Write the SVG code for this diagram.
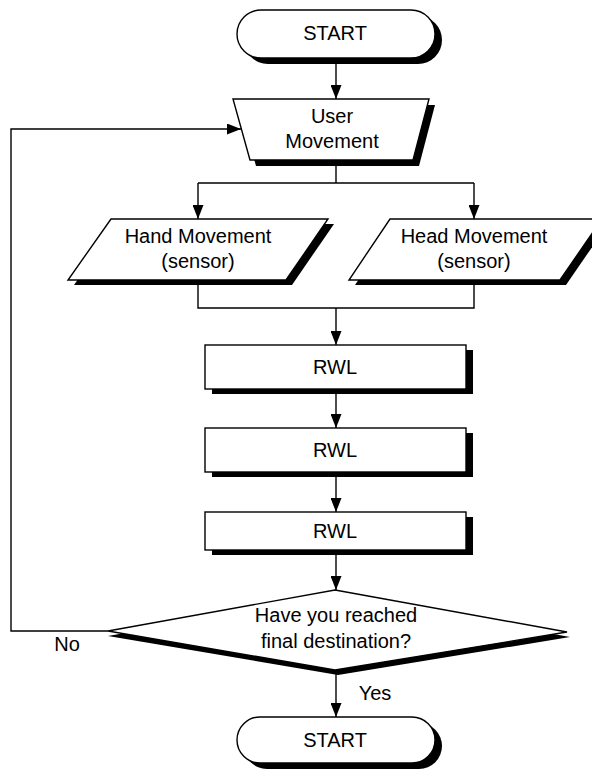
<svg xmlns="http://www.w3.org/2000/svg" width="592" height="769" viewBox="0 0 592 769">
<style>
.shape{fill:#fff;stroke:#000;stroke-width:1.4}
.shadow{fill:#000;stroke:none}
.line{fill:none;stroke:#000;stroke-width:1.4}
text{font-family:"Liberation Sans",Arial,sans-serif;font-size:20px;fill:#000;text-anchor:middle}
</style>
<defs>
<marker id="arrow" markerUnits="userSpaceOnUse" markerWidth="14" markerHeight="11" refX="14" refY="5.5" orient="auto">
<path d="M0,0 L14,5.5 L0,11 z" fill="#000"/>
</marker>
</defs>
<rect width="592" height="769" fill="#fff"/>
<g id="connectors">
<path class="line" d="M336,58 V99" marker-end="url(#arrow)"/>
<path class="line" d="M336,160 V183"/>
<path class="line" d="M198,183 H474"/>
<path class="line" d="M198,183 V219" marker-end="url(#arrow)"/>
<path class="line" d="M474,183 V219" marker-end="url(#arrow)"/>
<path class="line" d="M198,280 V308 H474 V280"/>
<path class="line" d="M336,308 V345" marker-end="url(#arrow)"/>
<path class="line" d="M336,389 V428" marker-end="url(#arrow)"/>
<path class="line" d="M336,472 V512" marker-end="url(#arrow)"/>
<path class="line" d="M336,550 V590" marker-end="url(#arrow)"/>
<path class="line" d="M336,670 V717" marker-end="url(#arrow)"/>
<path class="line" d="M108,631 H11 V129 H241" marker-end="url(#arrow)"/>
<text x="67" y="651">No</text>
<text x="375" y="700">Yes</text>
</g>
<g id="start">
<rect class="shadow" x="244" y="16" width="198" height="48" rx="24"/>
<rect class="shape" x="237" y="10" width="198" height="48" rx="24"/>
<text x="335" y="40">START</text>
</g>
<g id="user-movement">
<polygon class="shadow" points="239,105 435,105 419,166 256,166"/>
<polygon class="shape" points="233,99 429,99 413,160 250,160"/>
<text x="332" y="123">User</text>
<text x="332" y="148">Movement</text>
</g>
<g id="hand-movement">
<polygon class="shadow" points="117,224 334,224 292,285 74,285"/>
<polygon class="shape" points="111,219 328,219 286,280 68,280"/>
<text x="198" y="243">Hand Movement</text>
<text x="198" y="268">(sensor)</text>
</g>
<g id="head-movement">
<polygon class="shadow" points="396,224 608,224 566,285 355,285"/>
<polygon class="shape" points="390,219 602,219 560,280 349,280"/>
<text x="474" y="243">Head Movement</text>
<text x="474" y="268">(sensor)</text>
</g>
<g id="rwl1">
<rect class="shadow" x="212" y="350" width="261" height="44"/>
<rect class="shape" x="205" y="345" width="261" height="44"/>
<text x="335" y="374">RWL</text>
</g>
<g id="rwl2">
<rect class="shadow" x="212" y="433" width="261" height="44"/>
<rect class="shape" x="205" y="428" width="261" height="44"/>
<text x="335" y="457">RWL</text>
</g>
<g id="rwl3">
<rect class="shadow" x="212" y="517" width="261" height="38"/>
<rect class="shape" x="205" y="512" width="261" height="38"/>
<text x="335" y="538">RWL</text>
</g>
<g id="decision">
<polygon class="shadow" points="336,595 570,637 338,675 108,636"/>
<polygon class="shape" points="335,590 567,632 335,670 108,631"/>
<text x="336" y="622">Have you reached</text>
<text x="336" y="648">final destination?</text>
</g>
<g id="end">
<rect class="shadow" x="244" y="723" width="198" height="46" rx="23"/>
<rect class="shape" x="237" y="717" width="198" height="46" rx="23"/>
<text x="335" y="747">START</text>
</g>
</svg>
